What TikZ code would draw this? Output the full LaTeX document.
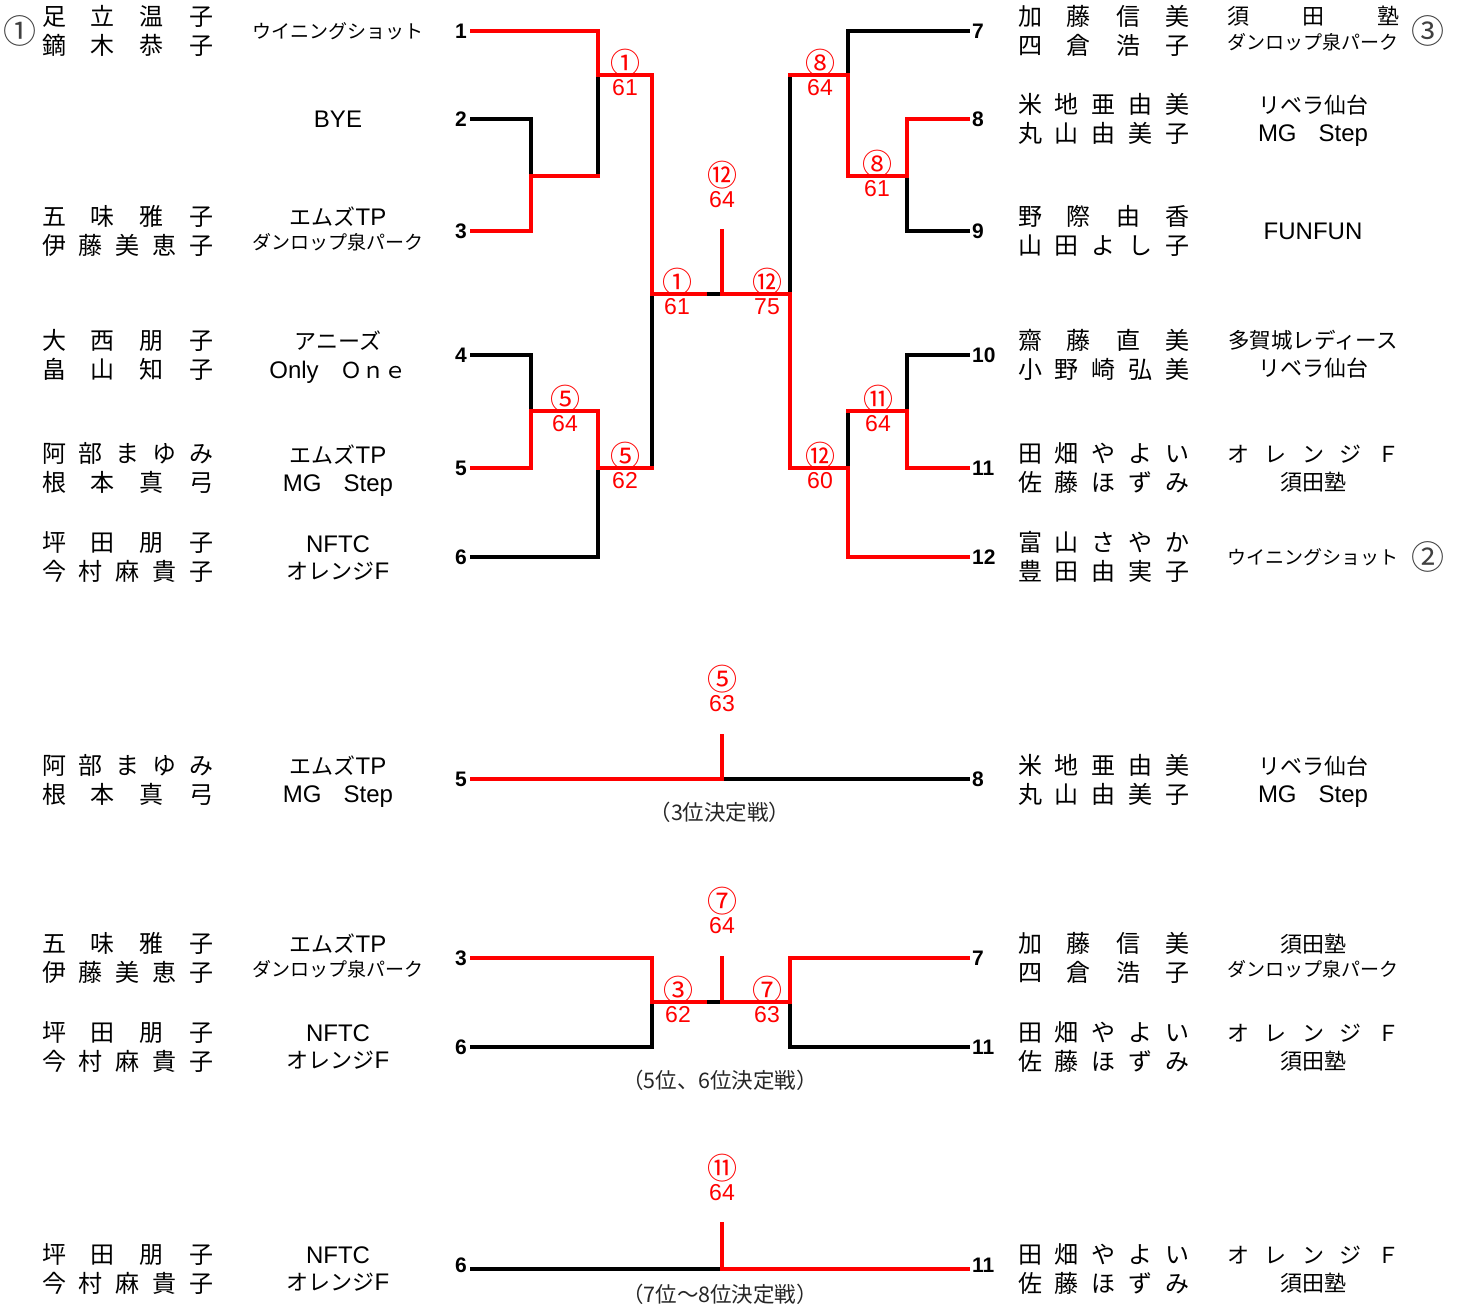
\documentclass[tikz,border=0pt]{standalone}
\usepackage{fontspec}
\setmainfont{Noto Sans CJK JP}
\newfontfamily\lat{Liberation Sans}
\newcommand\fnm{\fontsize{24}{24}\selectfont}
\newcommand\fclub{\fontsize{22}{22}\selectfont}
\newcommand\fsmall{\fontsize{19}{19}\selectfont}
\newcommand\fnum{\lat\bfseries\fontsize{21}{21}\selectfont}
\newcommand\fscore{\lat\fontsize{23}{23}\selectfont}
\newcommand\fcirc{\fontsize{30}{30}\selectfont}
\newcommand\fseed{\fontsize{33}{33}\selectfont}
\newcommand\fcap{\fontsize{21.5}{21.5}\selectfont}
\newcommand\latw[1]{{\lat\fontsize{24}{24}\selectfont #1}}
\def\sprdloop#1{\ifx\relax#1\else #1\expandafter\sprdnext\fi}
\def\sprdnext#1{\ifx\relax#1\else\hfill #1\expandafter\sprdnext\fi}
\newcommand\spreadtext[2]{\makebox[#1][s]{\sprdloop#2\relax}}
\tikzset{
  win/.style={draw=red, line width=3.6pt, line cap=rect, line join=miter},
  lose/.style={draw=black, line width=3.6pt, line cap=rect, line join=miter},
  nm/.style={inner sep=0pt, font=\fnm, text height=21pt, text depth=3pt},
  cb/.style={inner sep=0pt, font=\fclub, text height=19.4pt, text depth=2.6pt},
  cs/.style={inner sep=0pt, font=\fsmall, text height=16.7pt, text depth=2.3pt},
  num/.style={inner sep=0pt, font=\fnum, text height=15pt, text depth=0pt},
  sc/.style={inner sep=0pt, font=\fscore, text=red, text height=16.5pt, text depth=0pt},
  sci/.style={inner sep=0pt, font=\fcirc, text=red, text height=26.4pt, text depth=3.6pt},
  seed/.style={inner sep=0pt, font=\fseed, text=black!75, text height=29pt, text depth=4pt},
  capt/.style={inner sep=0pt, font=\fcap, text=black!85, text height=18.9pt, text depth=2.6pt}
}
\newcommand\player[5]{%
  \node[nm] (#1a) at (#2,#3-14.5) {\spreadtext{171pt}{#4}};
  \node[nm] (#1b) at (#2,#3+14.5) {\spreadtext{171pt}{#5}};}
\newcommand\result[5]{%
  \node[sci] (#1c) at (#2,#3-12) {#4};
  \node[sc] (#1s) at (#2,#3+12) {#5};}
\begin{document}
\begin{tikzpicture}[x=1pt,y=-1pt]
\useasboundingbox (0,0) rectangle (1459,1309);
% ---------- entry line ends ----------
\coordinate (a1) at (472,31);  \coordinate (a2) at (472,119); \coordinate (a3) at (472,231);
\coordinate (a4) at (472,355); \coordinate (a5) at (472,468); \coordinate (a6) at (472,557);
\coordinate (a7) at (968,31);  \coordinate (a8) at (968,119); \coordinate (a9) at (968,231);
\coordinate (a10) at (968,355); \coordinate (a11) at (968,468); \coordinate (a12) at (968,557);
% junctions
\coordinate (m23) at (531,176); \coordinate (m23e) at (598,176);
\coordinate (m1) at (598,75);   \coordinate (m1e) at (652,75);
\coordinate (m45) at (531,411); \coordinate (m45e) at (598,411);
\coordinate (m6) at (598,468);  \coordinate (m6e) at (652,468);
\coordinate (sL) at (652,294);  \coordinate (sLm) at (705,294);
\coordinate (fin) at (722,294); \coordinate (finT) at (722,231);
\coordinate (sR) at (790,294);
\coordinate (m89) at (907,176); \coordinate (m89e) at (848,176);
\coordinate (m7) at (848,75);   \coordinate (m7e) at (790,75);
\coordinate (m1011) at (907,411); \coordinate (m1011e) at (848,411);
\coordinate (m12) at (848,468); \coordinate (m12e) at (790,468);
% ---------- main draw: black ----------
\draw[lose] (a2) -| (m23);
\draw[lose] (m1) -- (m23e);
\draw[lose] (a4) -| (m45);
\draw[lose] (a6) -| (m6);
\draw[lose] (sL) -- (m6e);
\draw[lose] (sLm) -- (fin);
\draw[lose] (a7) -| (m7);
\draw[lose] (m7e) -- (sR);
\draw[lose] (a9) -| (m89);
\draw[lose] (a10) -| (m1011);
\draw[lose] (m1011e) -- (m12);
% ---------- main draw: red ----------
\draw[win] (a1) -| (m1) -- (m1e) -- (sL) -- (sLm);
\draw[win] (a3) -| (m23) -- (m23e);
\draw[win] (a5) -| (m45) -- (m45e) -- (m6) -- (m6e);
\draw[win] (finT) -- (fin);
\draw[win] (fin) -- (sR) -- (m12e) -- (m12) |- (a12);
\draw[win] (a8) -| (m89) -- (m89e) -- (m7) -- (m7e);
\draw[win] (a11) -| (m1011) -- (m1011e);
% ---------- results ----------
\result{r1}{625}{75}{①}{61}
\result{r5a}{565}{411}{⑤}{64}
\result{r5b}{625}{468}{⑤}{62}
\result{rsl}{677}{294}{①}{61}
\result{rsr}{767}{294}{⑫}{75}
\node[sci] (rfc) at (722,175) {⑫};
\node[sc] (rfs) at (722,199) {64};
\result{r8a}{820}{75}{⑧}{64}
\result{r8b}{877}{176}{⑧}{61}
\result{r11}{878}{411}{⑪}{64}
\result{r12}{820}{468}{⑫}{60}
% ---------- numbers ----------
\foreach \i/\y in {1/31,2/119,3/231,4/355,5/468,6/557}
  \node[num, anchor=east] (n\i) at (467,\y) {\i};
\foreach \i/\y in {7/31,8/119,9/231,10/355,11/468,12/557}
  \node[num, anchor=west] (n\i) at (972,\y) {\i};
% ---------- seeds ----------
\node[seed] (s1) at (20,31) {①};
\node[seed] (s3) at (1428,31) {③};
\node[seed] (s2) at (1428,557) {②};
% ---------- left players ----------
\player{p1}{127.5}{31}{足立温子}{鏑木恭子}
\player{p3}{127.5}{231}{五味雅子}{伊藤美恵子}
\player{p4}{127.5}{355}{大西朋子}{畠山知子}
\player{p5}{127.5}{468}{阿部まゆみ}{根本真弓}
\player{p6}{127.5}{557}{坪田朋子}{今村麻貴子}
% left clubs
\node[cs] (c1) at (338,31) {ウイニングショット};
\node[cb] (c2) at (338,119) {\latw{BYE}};
\node[cb] (c3a) at (338,217) {エムズ\latw{TP}};
\node[cs] (c3b) at (338,242) {ダンロップ泉パーク};
\node[cb] (c4a) at (338,341) {アニーズ};
\node[cb] (c4b) at (338,370) {\latw{Only}　Ｏｎｅ};
\node[cb] (c5a) at (338,455) {エムズ\latw{TP}};
\node[cb] (c5b) at (338,483) {\latw{MG}　\latw{Step}};
\node[cb] (c6a) at (338,544) {\latw{NFTC}};
\node[cb] (c6b) at (338,571) {オレンジ\latw{F}};
% ---------- right players ----------
\player{p7}{1103.5}{31}{加藤信美}{四倉浩子}
\player{p8}{1103.5}{119}{米地亜由美}{丸山由美子}
\player{p9}{1103.5}{231}{野際由香}{山田よし子}
\player{p10}{1103.5}{355}{齋藤直美}{小野崎弘美}
\player{p11}{1103.5}{468}{田畑やよい}{佐藤ほずみ}
\player{p12}{1103.5}{557}{富山さやか}{豊田由実子}
% right clubs
\node[cb] (c7a) at (1313,16) {\spreadtext{172pt}{須田塾}};
\node[cs] (c7b) at (1313,42) {ダンロップ泉パーク};
\node[cb] (c8a) at (1313,105) {リベラ仙台};
\node[cb] (c8b) at (1313,133) {\latw{MG}　\latw{Step}};
\node[cb] (c9) at (1313,231) {\latw{FUNFUN}};
\node[cs, font=\fontsize{21.5}{21.5}\selectfont] (c10a) at (1313,341) {多賀城レディース};
\node[cb] (c10b) at (1313,368) {リベラ仙台};
\node[cb] (c11a) at (1313,454) {\spreadtext{172pt}{オレンジＦ}};
\node[cb] (c11b) at (1313,482) {須田塾};
\node[cs] (c12) at (1313,557) {ウイニングショット};
% ================= 3rd place =================
\coordinate (b5) at (472,779); \coordinate (b8) at (968,779);
\coordinate (b3f) at (722,779); \coordinate (b3t) at (722,736);
\draw[lose] (b3f) -- (b8);
\draw[win] (b5) -- (b3f);
\draw[win] (b3t) -- (b3f);
\node[sci] (t3c) at (722,679) {⑤};
\node[sc] (t3s) at (722,703) {63};
\node[capt] (t3cap) at (720,812) {（3位決定戦）};
\node[num, anchor=east] (tn5) at (467,779) {5};
\node[num, anchor=west] (tn8) at (972,779) {8};
\player{tp5}{127.5}{780}{阿部まゆみ}{根本真弓}
\node[cb] (tc5a) at (338,766) {エムズ\latw{TP}};
\node[cb] (tc5b) at (338,794) {\latw{MG}　\latw{Step}};
\player{tp8}{1103.5}{780}{米地亜由美}{丸山由美子}
\node[cb] (tc8a) at (1313,766) {リベラ仙台};
\node[cb] (tc8b) at (1313,794) {\latw{MG}　\latw{Step}};
% ================= 5th/6th =================
\coordinate (f3) at (472,958); \coordinate (f6) at (472,1047);
\coordinate (f7) at (968,958); \coordinate (f11) at (968,1047);
\coordinate (fL) at (652,1002); \coordinate (fLm) at (705,1002);
\coordinate (fC) at (722,1002); \coordinate (fCt) at (722,958);
\coordinate (fR) at (790,1002);
\draw[lose] (f6) -| (fL);
\draw[lose] (fLm) -- (fC);
\draw[lose] (f11) -| (fR);
\draw[win] (f3) -| (fL) -- (fLm);
\draw[win] (fCt) -- (fC);
\draw[win] (fC) -- (fR) |- (f7);
\result{f3r}{678}{1002}{③}{62}
\result{f7r}{767}{1002}{⑦}{63}
\node[sci] (f5c) at (722,901) {⑦};
\node[sc] (f5s) at (722,925) {64};
\node[capt] (f5cap) at (720,1080) {（5位、6位決定戦）};
\node[num, anchor=east] (fn3) at (467,958) {3};
\node[num, anchor=east] (fn6) at (467,1047) {6};
\node[num, anchor=west] (fn7) at (972,958) {7};
\node[num, anchor=west] (fn11) at (972,1047) {11};
\player{fp3}{127.5}{958}{五味雅子}{伊藤美恵子}
\node[cb] (fc3a) at (338,944) {エムズ\latw{TP}};
\node[cs] (fc3b) at (338,969) {ダンロップ泉パーク};
\player{fp6}{127.5}{1047}{坪田朋子}{今村麻貴子}
\node[cb] (fc6a) at (338,1033) {\latw{NFTC}};
\node[cb] (fc6b) at (338,1060) {オレンジ\latw{F}};
\player{fp7}{1103.5}{958}{加藤信美}{四倉浩子}
\node[cb] (fc7a) at (1313,944) {須田塾};
\node[cs] (fc7b) at (1313,969) {ダンロップ泉パーク};
\player{fp11}{1103.5}{1047}{田畑やよい}{佐藤ほずみ}
\node[cb] (fc11a) at (1313,1033) {\spreadtext{172pt}{オレンジＦ}};
\node[cb] (fc11b) at (1313,1061) {須田塾};
% ================= 7th/8th =================
\coordinate (g6) at (472,1269); \coordinate (g11) at (968,1269);
\coordinate (gC) at (722,1269); \coordinate (gCt) at (722,1224);
\draw[lose] (g6) -- (gC);
\draw[win] (gC) -- (g11);
\draw[win] (gCt) -- (gC);
\node[sci] (g7c) at (722,1168) {⑪};
\node[sc] (g7s) at (722,1192) {64};
\node[capt] (g7cap) at (720,1294) {（7位～8位決定戦）};
\node[num, anchor=east] (gn6) at (467,1265) {6};
\node[num, anchor=west] (gn11) at (972,1265) {11};
\player{gp6}{127.5}{1269}{坪田朋子}{今村麻貴子}
\node[cb] (gc6a) at (338,1255) {\latw{NFTC}};
\node[cb] (gc6b) at (338,1282) {オレンジ\latw{F}};
\player{gp11}{1103.5}{1269}{田畑やよい}{佐藤ほずみ}
\node[cb] (gc11a) at (1313,1255) {\spreadtext{172pt}{オレンジＦ}};
\node[cb] (gc11b) at (1313,1283) {須田塾};
\end{tikzpicture}
\end{document}
